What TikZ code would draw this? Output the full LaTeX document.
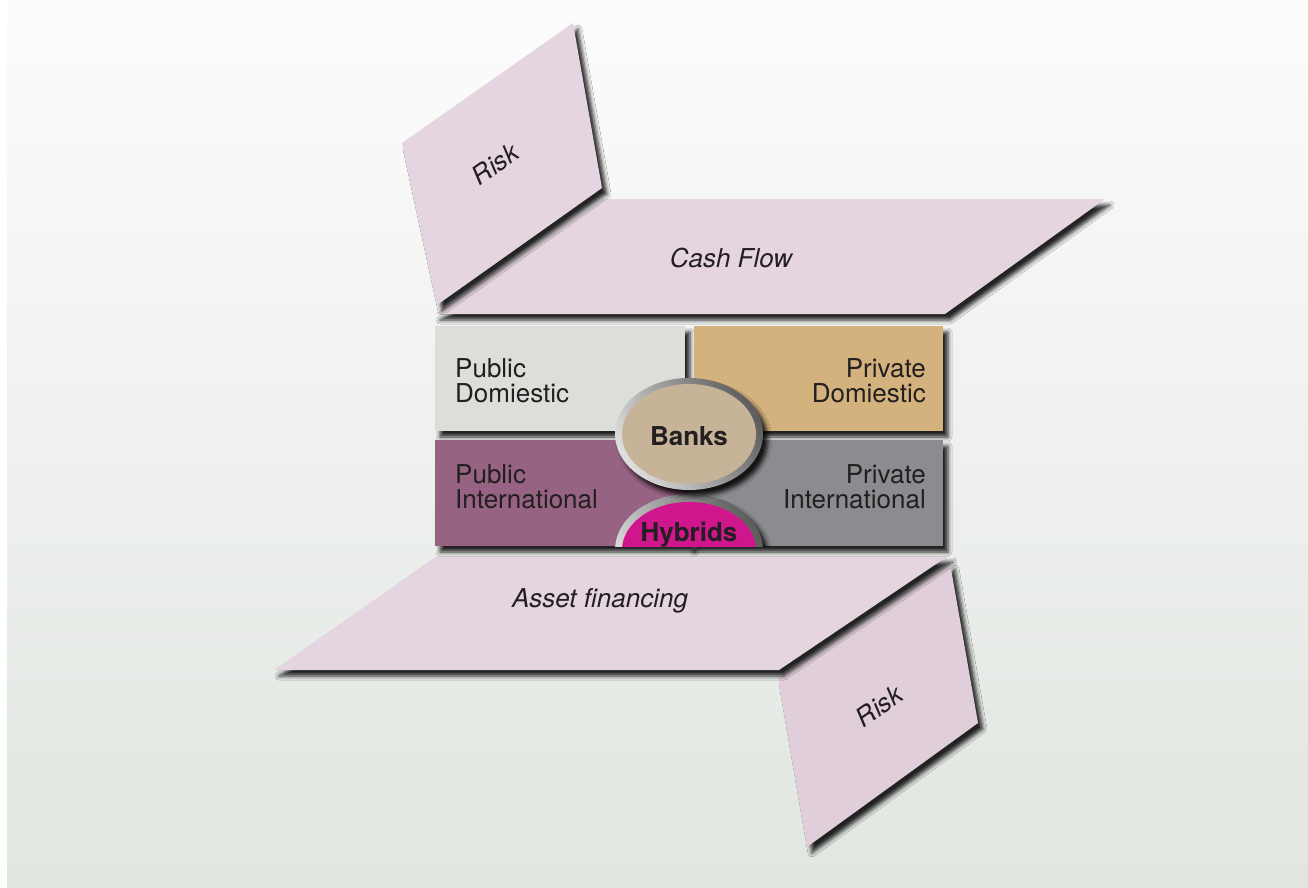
\documentclass[tikz,border=0pt]{standalone}
\usepackage{fontspec}
\setmainfont{TeX Gyre Heros}
\usetikzlibrary{shadows.blur}
\definecolor{bgtop}{HTML}{FCFCFC}
\definecolor{bgbot}{HTML}{E1E6E0}
\definecolor{panelpink}{HTML}{E4D5E0}
\definecolor{panelpinkb}{HTML}{E0CFDB}
\definecolor{pubdom}{HTML}{DCDEDA}
\definecolor{privdom}{HTML}{D4B27E}
\definecolor{pubint}{HTML}{966383}
\definecolor{privint}{HTML}{8B8C8F}
\definecolor{bankfill}{HTML}{C6B398}
\definecolor{hybfill}{HTML}{D0168C}
\definecolor{txt}{HTML}{231F20}
\definecolor{ringdark}{HTML}{5E5E5E}
\definecolor{ringmid}{HTML}{A8A8A8}
\definecolor{ringlight}{HTML}{DEDEDE}
\tikzset{
  sh/.style={blur shadow={shadow xshift=5pt, shadow yshift=-6pt, shadow blur radius=4pt, shadow opacity=85}},
  panel/.style={fill=panelpink, sh},
  quadbox/.style={sh},
  ringsh/.style={sh, left color=ringdark, middle color=ringmid, right color=ringlight, shading angle=-60},
  qlabel/.style={font=\fontsize{26}{25}\selectfont, text=txt, inner sep=0pt},
  plabel/.style={font=\fontsize{26}{26}\selectfont\itshape, text=txt, inner sep=0pt},
  blabel/.style={font=\fontsize{26}{26}\selectfont\bfseries, text=txt, inner sep=0pt}
}
\begin{document}
\begin{tikzpicture}[x=1pt, y=-1pt]
\useasboundingbox (0,0) rectangle (1308,888);
\fill[white] (0,0) rectangle (1308,888);
\shade[top color=bgtop, bottom color=bgbot] (7,0) rectangle (1308,888);

% Cash Flow panel and upper Risk panel
\path[panel] (603,199) -- (1105,199) -- (945,314) -- (435,314) -- cycle;
\path[panel] (402,143) -- (573,23) -- (602,188) -- (437,305) -- cycle;
\node[plabel] (cash) at (731,258) {Cash Flow};
\node[plabel, rotate=35] (risktop) at (495,164) {Risk};

% lower Risk panel and Asset financing panel
\path[sh, fill=panelpinkb] (778,678) -- (950,563) -- (978,723) -- (807,847) -- cycle;
\path[panel] (437,556) -- (948,556) -- (779,670) -- (274,670) -- cycle;
\node[plabel] (asset) at (600,601) {Asset financing};
\node[plabel, rotate=35] (riskbot) at (879,706) {Risk};

% quadrants
\path[quadbox, fill=pubdom] (435,326) rectangle (685,431);
\path[quadbox, fill=privdom] (694,326) rectangle (943,431);
\path[quadbox, fill=pubint] (435,440) rectangle (690,546);
\path[quadbox, fill=privint] (689,440) rectangle (943,546);

\node[qlabel, anchor=north west, align=left] (pd) at (455,358) {Public\\Domiestic};
\node[qlabel, anchor=north east, align=right] (prd) at (926,358) {Private\\Domiestic};
\node[qlabel, anchor=north west, align=left] (pi) at (455,464) {Public\\International};
\node[qlabel, anchor=north east, align=right] (pri) at (926,464) {Private\\International};

% Hybrids half ellipse
\begin{scope}
  \clip (590,470) rectangle (790,546);
  \path[ringsh] (689,550) ellipse [x radius=74, y radius=56];
  \fill[hybfill] (689,550) ellipse [x radius=67, y radius=48];
\end{scope}
\node[blabel, anchor=base] (hyb) at (689,541) {Hybrids};

% Banks ellipse
\path[ringsh] (689,434) ellipse [x radius=74, y radius=56];
\fill[bankfill] (689,434) ellipse [x radius=67, y radius=50];
\node[blabel, anchor=base] (banks) at (689,445) {Banks};
\end{tikzpicture}
\end{document}
